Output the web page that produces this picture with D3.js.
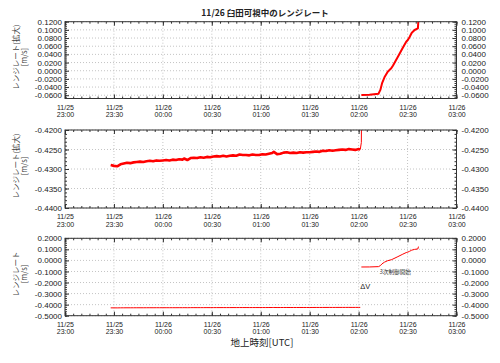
<!DOCTYPE html>
<html>
<head>
<meta charset="utf-8">
<script src="https://cdn.jsdelivr.net/npm/d3@7"></script>
<style>
  html, body { margin: 0; padding: 0; background: #fff; }
  svg { display: block; }
  .tick text { font-family: "Liberation Sans", Arial, sans-serif; fill: #222; }
  .jp { font-family: "Noto Sans CJK JP", sans-serif; }
</style>
</head>
<body>
<div id="chart"></div>
<script>
// Pre-maneuver range rate (11/25 23:28 - 11/26 02:01), m/s
const lowTimes = [
  "11/25 23:28", "11/25 23:30", "11/25 23:32", "11/25 23:34", "11/25 23:36", "11/25 23:38",
  "11/25 23:40", "11/25 23:42", "11/25 23:44", "11/25 23:46", "11/25 23:48", "11/25 23:50",
  "11/25 23:52", "11/25 23:54", "11/25 23:56", "11/25 23:58", "11/26 00:00", "11/26 00:02",
  "11/26 00:04", "11/26 00:06", "11/26 00:08", "11/26 00:10", "11/26 00:12", "11/26 00:13",
  "11/26 00:15", "11/26 00:17", "11/26 00:19", "11/26 00:21", "11/26 00:23", "11/26 00:25",
  "11/26 00:27", "11/26 00:29", "11/26 00:31", "11/26 00:33", "11/26 00:35", "11/26 00:37",
  "11/26 00:39", "11/26 00:41", "11/26 00:43", "11/26 00:45", "11/26 00:47", "11/26 00:49",
  "11/26 00:51", "11/26 00:53", "11/26 00:55", "11/26 00:57", "11/26 00:59", "11/26 01:01",
  "11/26 01:03", "11/26 01:05", "11/26 01:07", "11/26 01:08", "11/26 01:10", "11/26 01:12",
  "11/26 01:14", "11/26 01:16", "11/26 01:18", "11/26 01:20", "11/26 01:22", "11/26 01:24",
  "11/26 01:26", "11/26 01:28", "11/26 01:30", "11/26 01:32", "11/26 01:34", "11/26 01:36",
  "11/26 01:38", "11/26 01:40", "11/26 01:42", "11/26 01:44", "11/26 01:46", "11/26 01:48",
  "11/26 01:50", "11/26 01:52", "11/26 01:54", "11/26 01:56", "11/26 01:58", "11/26 02:00",
  "11/26 02:01"
];
const lowValues = [
  -0.4290, -0.4292, -0.4293, -0.4288, -0.4286, -0.4284,
  -0.4285, -0.4283, -0.4282, -0.4281, -0.4282, -0.4280,
  -0.4279, -0.4280, -0.4278, -0.4279, -0.4278, -0.4277,
  -0.4278, -0.4276, -0.4277, -0.4275, -0.4276, -0.4273,
  -0.4277, -0.4272, -0.4271, -0.4272, -0.4270, -0.4271,
  -0.4269, -0.4270, -0.4268, -0.4267, -0.4268, -0.4266,
  -0.4268, -0.4266, -0.4265, -0.4266, -0.4263, -0.4264,
  -0.4264, -0.4265, -0.4263, -0.4264, -0.4264, -0.4262,
  -0.4263, -0.4261, -0.4259, -0.4256, -0.4262, -0.4261,
  -0.4258, -0.4257, -0.4259, -0.4258, -0.4259, -0.4257,
  -0.4258, -0.4257, -0.4257, -0.4256, -0.4255, -0.4256,
  -0.4253, -0.4254, -0.4252, -0.4253, -0.4252, -0.4251,
  -0.4250, -0.4251, -0.4249, -0.4250, -0.4251, -0.4249,
  -0.4250
];

// Jump at the start of the maneuver (leaves the zoomed scale)
const spikeTimes = ["11/26 02:01:00", "11/26 02:01:40", "11/26 02:01:50"];
const spikeValues = [-0.4250, -0.4232, -0.4100];

// Post-maneuver range rate (11/26 02:01 - 02:37), m/s
const highTimes = [
  "11/26 02:01:40", "11/26 02:06:40", "11/26 02:12:10", "11/26 02:13:20", "11/26 02:14:20",
  "11/26 02:15:50", "11/26 02:17:50", "11/26 02:20:00", "11/26 02:21:00", "11/26 02:24:05",
  "11/26 02:27:05", "11/26 02:29:10", "11/26 02:30:10", "11/26 02:31:10", "11/26 02:32:35",
  "11/26 02:34:20", "11/26 02:36:20", "11/26 02:36:40"
];
const highValues = [
  -0.0595, -0.0590, -0.0563, -0.0470, -0.0310,
  -0.0160, -0.0024, 0.0059, 0.0123, 0.0344,
  0.0564, 0.0710, 0.0752, 0.0818, 0.0930,
  0.0997, 0.1038, 0.1250
];

const xDomain = ["11/25 23:00", "11/26 03:00"];
const xMajorMinutes = 30;
const xMinorMinutes = 5;

const yTicksTop = [-0.06, -0.04, -0.02, 0, 0.02, 0.04, 0.06, 0.08, 0.10, 0.12];
const yTicksMid = [-0.44, -0.435, -0.43, -0.425, -0.42];
const yTicksBottom = [-0.5, -0.4, -0.3, -0.2, -0.1, 0, 0.1, 0.2];

const chartTitle = "11/26 臼田可視中のレンジレート";
const xTitle = "地上時刻[UTC]";

const parseTime = (s) =>
  d3.utcParse("%m/%d %H:%M:%S")(s) || d3.utcParse("%m/%d %H:%M")(s);
const toSeries = (times, values) => times.map((t, i) => ({ t: parseTime(t), v: values[i] }));

const lowSeries = toSeries(lowTimes, lowValues);
const spikeSeries = toSeries(spikeTimes, spikeValues);
const highSeries = toSeries(highTimes, highValues);

const fmt = d3.formatLocale({
  decimal: ".", thousands: ",", grouping: [3], currency: ["", ""], minus: "-"
}).format(".4f");

const width = 500;
const height = 363;
const left = 65;
const right = 456.5;

const svg = d3.select("#chart").append("svg")
  .attr("width", width)
  .attr("height", height);

const x = d3.scaleUtc().domain(xDomain.map(parseTime)).range([left, right]);
const xMajor = x.ticks(d3.utcMinute.every(xMajorMinutes));
const xMinor = x.ticks(d3.utcMinute.every(xMinorMinutes));

const panels = [
  {
    top: 21.7, bottom: 98.5, domain: [-0.068, 0.12], ticks: yTicksTop, minorStep: 0.005,
    title: ["レンジレート(拡大)", "[m/s]"],
    lines: [{ data: highSeries, width: 2 }]
  },
  {
    top: 130, bottom: 208, domain: [-0.44, -0.42], ticks: yTicksMid, minorStep: 0.001,
    title: ["レンジレート(拡大)", "[m/s]"],
    lines: [{ data: lowSeries, width: 2.6 }, { data: spikeSeries, width: 1 }]
  },
  {
    top: 238.3, bottom: 315.7, domain: [-0.5, 0.2], ticks: yTicksBottom, minorStep: 0.02,
    title: ["レンジレート", "[m/s]"],
    lines: [{ data: lowSeries, width: 1 }, { data: highSeries, width: 1 }]
  }
];

panels.forEach((p, i) => drawPanel(p, i));

function drawPanel(p, index) {
  const y = d3.scaleLinear().domain(p.domain).range([p.bottom, p.top]);
  const g = svg.append("g");
  const minorY = d3.range(
    Math.ceil(p.domain[0] / p.minorStep - 1e-6),
    Math.floor(p.domain[1] / p.minorStep + 1e-6) + 1
  ).map((k) => k * p.minorStep);

  // dotted grid
  g.append("g")
    .selectAll("line.gx")
    .data(xMajor)
    .join("line")
    .attr("x1", (d) => x(d)).attr("x2", (d) => x(d))
    .attr("y1", p.top).attr("y2", p.bottom)
    .attr("stroke", "#c4c4c4").attr("stroke-dasharray", "1,2");
  g.append("g")
    .selectAll("line.gy")
    .data(p.ticks)
    .join("line")
    .attr("x1", left).attr("x2", right)
    .attr("y1", (d) => y(d)).attr("y2", (d) => y(d))
    .attr("stroke", "#c4c4c4").attr("stroke-dasharray", "1,2");

  // series
  const clipId = `clip-${index}`;
  svg.append("clipPath").attr("id", clipId)
    .append("rect")
    .attr("x", left).attr("y", p.top)
    .attr("width", right - left).attr("height", p.bottom - p.top);

  const line = d3.line().x((d) => x(d.t)).y((d) => y(d.v));
  g.append("g")
    .attr("clip-path", `url(#${clipId})`)
    .selectAll("path")
    .data(p.lines)
    .join("path")
    .attr("d", (d) => line(d.data))
    .attr("fill", "none")
    .attr("stroke", "#ff0000")
    .attr("stroke-width", (d) => d.width)
    .attr("stroke-linejoin", "round");

  // inward ticks on all four sides
  const axes = g.append("g").attr("class", "axes");
  axes.append("g")
    .attr("transform", `translate(0,${p.bottom})`)
    .call(d3.axisBottom(x).tickValues(xMinor).tickSize(-2).tickFormat(""));
  axes.append("g")
    .attr("transform", `translate(0,${p.top})`)
    .call(d3.axisTop(x).tickValues(xMinor).tickSize(-2).tickFormat(""));
  axes.append("g")
    .attr("transform", `translate(0,${p.top})`)
    .call(d3.axisTop(x).tickValues(xMajor).tickSize(-4).tickFormat(""));

  const bottomAxis = axes.append("g")
    .attr("transform", `translate(0,${p.bottom})`)
    .call(d3.axisBottom(x).tickValues(xMajor).tickSize(-4).tickPadding(0)
      .tickFormat(d3.utcFormat("%m/%d|%H:%M")));
  bottomAxis.selectAll(".tick text")
    .attr("font-size", 7)
    .attr("dy", null)
    .attr("y", 0)
    .each(function () {
      const parts = d3.select(this).text().split("|");
      const t = d3.select(this).text(null);
      t.append("tspan").attr("x", 0).attr("y", 11).text(parts[0]);
      t.append("tspan").attr("x", 0).attr("y", 18.5).text(parts[1]);
    });

  axes.append("g")
    .attr("transform", `translate(${left},0)`)
    .call(d3.axisLeft(y).tickValues(minorY).tickSize(-2).tickFormat(""));
  axes.append("g")
    .attr("transform", `translate(${right},0)`)
    .call(d3.axisRight(y).tickValues(minorY).tickSize(-2).tickFormat(""));
  axes.append("g")
    .attr("transform", `translate(${left},0)`)
    .call(d3.axisLeft(y).tickValues(p.ticks).tickSize(-4).tickPadding(3).tickFormat(fmt))
    .selectAll(".tick text").attr("font-size", 8);
  axes.append("g")
    .attr("transform", `translate(${right},0)`)
    .call(d3.axisRight(y).tickValues(p.ticks).tickSize(-4).tickPadding(5).tickFormat(fmt))
    .selectAll(".tick text").attr("font-size", 8);

  axes.selectAll(".domain").remove();
  axes.selectAll(".tick line").attr("stroke", "#333");

  g.append("rect")
    .attr("x", left).attr("y", p.top)
    .attr("width", right - left).attr("height", p.bottom - p.top)
    .attr("fill", "none").attr("stroke", "#333").attr("stroke-width", 1);

  // y title, rotated, two lines
  const cy = (p.top + p.bottom) / 2 - 3;
  const title = g.append("text")
    .attr("class", "jp")
    .attr("transform", `translate(0,${cy}) rotate(-90)`)
    .attr("text-anchor", "middle")
    .attr("font-size", 7.5)
    .attr("fill", "#444");
  title.append("tspan").attr("x", 0).attr("y", 18.5).text(p.title[0]);
  title.append("tspan").attr("x", 0).attr("y", 26.5).text(p.title[1]);

  if (index === 2) {
    g.append("text")
      .attr("x", x(parseTime("11/26 02:01"))).attr("y", 289)
      .attr("font-family", "\"Liberation Sans\", Arial, sans-serif")
      .attr("font-size", 7.5).attr("fill", "#222")
      .text("ΔV");
    g.append("text")
      .attr("class", "jp")
      .attr("x", x(parseTime("11/26 02:13"))).attr("y", 274)
      .attr("font-size", 5.6).attr("fill", "#333")
      .text("3次制御開始");
  }
}

svg.append("text")
  .attr("class", "jp")
  .attr("x", 265).attr("y", 16)
  .attr("text-anchor", "middle")
  .attr("font-size", 8.5)
  .attr("font-weight", "bold")
  .attr("fill", "#222")
  .text(chartTitle);

svg.append("text")
  .attr("class", "jp")
  .attr("x", 262).attr("y", 346)
  .attr("text-anchor", "middle")
  .attr("font-size", 9.5)
  .attr("fill", "#222")
  .text(xTitle);
</script>
</body>
</html>
